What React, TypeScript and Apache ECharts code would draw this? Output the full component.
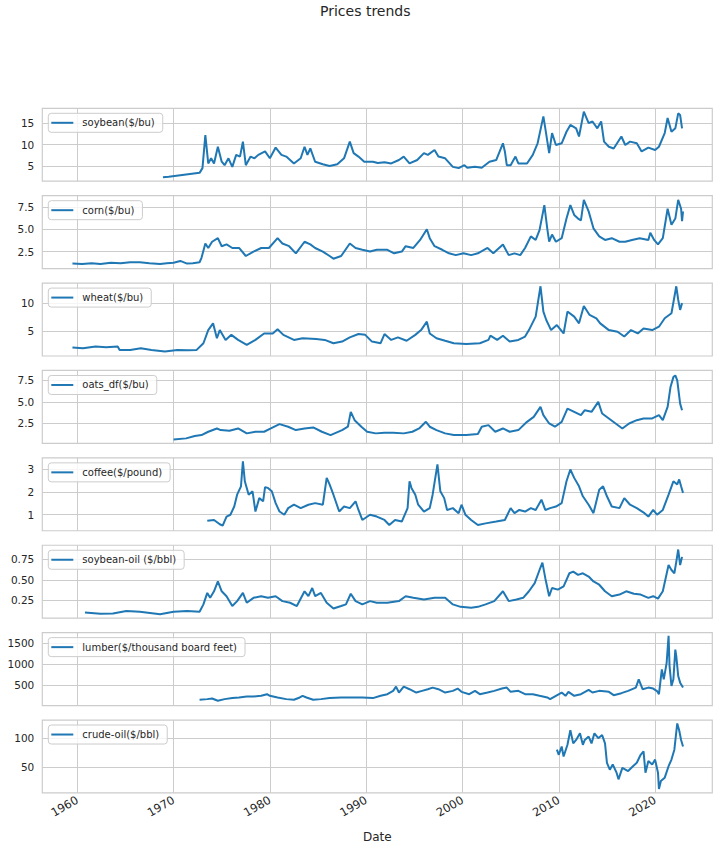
import React, { useEffect, useRef } from 'react';
import * as echarts from 'echarts';

const FONT = 'DejaVu Sans';
const LINE_COLOR = '#1f77b4';
const TEXT_COLOR = '#262626';
const GRID_COLOR = '#cccccc';

const xTicks = [1960, 1970, 1980, 1990, 2000, 2010, 2020];
const X_MIN = 1956.37;
const X_MAX = 2025.94;

const seriesNames = [
  'soybean($/bu)',
  'corn($/bu)',
  'wheat($/bu)',
  'oats_df($/bu)',
  'coffee($/pound)',
  'soybean-oil ($/bbl)',
  'lumber($/thousand board feet)',
  'crude-oil($/bbl)',
];

const yTicks: number[][] = [
  [5, 10, 15],
  [2.5, 5, 7.5],
  [5, 10],
  [2.5, 5, 7.5],
  [1, 2, 3],
  [0.25, 0.5, 0.75],
  [500, 1000, 1500],
  [50, 100],
];
const yDecimals = [0, 1, 0, 1, 0, 2, 0, 0];
const yMin = [1.45, 0.59, 0.59, 0.19, 0.295, 0.032, 5, 4.2];
const yMax = [18.48, 8.76, 13.57, 8.65, 3.5, 0.922, 1743, 131.9];

const soybean: [number, number][] = [
  [1968.9, 2.4], [1969.5, 2.5], [1970.5, 2.8], [1971.5, 3.1], [1972.7, 3.4], [1973.0, 4.5], [1973.3, 12.2],
  [1973.6, 5.6], [1973.9, 6.8], [1974.2, 5.6], [1974.6, 9.5], [1975.0, 6.0], [1975.3, 5.2], [1975.7, 6.8],
  [1976.1, 4.8], [1976.5, 7.6], [1976.9, 7.2], [1977.2, 10.7], [1977.5, 5.2], [1978.0, 7.2], [1978.4, 6.8],
  [1978.8, 7.6], [1979.5, 8.4], [1980.0, 6.8], [1980.6, 9.3], [1981.2, 7.6], [1981.7, 7.2], [1982.5, 5.6],
  [1983.2, 6.8], [1983.6, 9.5], [1983.9, 7.6], [1984.2, 9.1], [1984.7, 6.0], [1985.5, 5.4], [1986.2, 5.0],
  [1987.0, 5.4], [1987.7, 6.8], [1988.3, 10.7], [1988.7, 8.0], [1989.2, 7.2], [1989.8, 6.0], [1990.7, 6.0],
  [1991.2, 5.7], [1991.9, 5.9], [1992.6, 5.6], [1993.4, 6.4], [1993.9, 7.2], [1994.5, 5.6], [1995.3, 6.4],
  [1996.0, 8.0], [1996.4, 7.6], [1997.1, 8.75], [1997.5, 7.2], [1998.2, 6.8], [1999.0, 4.8], [1999.6, 4.5],
  [2000.2, 5.2], [2000.5, 4.6], [2001.3, 4.8], [2002.0, 4.6], [2002.8, 6.0], [2003.5, 6.4], [2004.2, 10.3],
  [2004.4, 8.4], [2004.6, 5.2], [2005.0, 5.2], [2005.5, 7.2], [2005.8, 5.6], [2006.7, 5.6], [2007.3, 7.6],
  [2007.8, 10.3], [2008.4, 16.6], [2008.6, 13.8], [2009.0, 8.0], [2009.3, 12.7], [2009.7, 9.9], [2010.3, 10.3],
  [2010.8, 13.0], [2011.2, 14.6], [2011.8, 13.8], [2012.1, 11.9], [2012.6, 17.7], [2013.1, 15.0], [2013.5, 15.4],
  [2014.0, 13.8], [2014.4, 15.4], [2014.7, 10.7], [2015.2, 9.5], [2015.7, 9.1], [2016.5, 11.9], [2016.9, 9.9],
  [2017.4, 10.7], [2018.1, 10.3], [2018.6, 8.4], [2019.3, 9.3], [2020.0, 8.75], [2020.4, 9.5], [2021.0, 12.7],
  [2021.3, 16.2], [2021.7, 13.0], [2022.1, 13.8], [2022.4, 17.3], [2022.6, 16.9], [2022.8, 13.8],
];

const corn: [number, number][] = [
  [1959.5, 1.15], [1960.5, 1.1], [1961.5, 1.2], [1962.4, 1.1], [1963.5, 1.25], [1964.5, 1.2], [1965.5, 1.3],
  [1966.5, 1.3], [1967.5, 1.2], [1968.6, 1.1], [1969.3, 1.2], [1970.0, 1.25], [1970.7, 1.45], [1971.4, 1.15],
  [1972.0, 1.2], [1972.7, 1.3], [1972.9, 1.8], [1973.3, 3.4], [1973.6, 2.9], [1974.0, 3.6], [1974.6, 4.0],
  [1975.0, 3.1], [1975.5, 3.3], [1976.1, 2.9], [1976.8, 2.9], [1977.5, 2.0], [1978.3, 2.5], [1979.1, 2.9],
  [1979.9, 2.9], [1980.8, 4.0], [1981.3, 3.4], [1982.0, 3.1], [1982.7, 2.3], [1983.6, 3.6], [1984.2, 3.3],
  [1984.7, 2.9], [1985.5, 2.5], [1986.2, 2.0], [1986.6, 1.7], [1987.4, 2.0], [1988.3, 3.4], [1988.9, 2.9],
  [1989.6, 2.7], [1990.4, 2.5], [1991.1, 2.7], [1992.2, 2.7], [1992.9, 2.3], [1993.7, 2.5], [1994.1, 3.1],
  [1994.9, 2.9], [1995.6, 3.8], [1996.3, 5.0], [1996.6, 4.0], [1997.1, 3.1], [1997.9, 2.7], [1998.6, 2.3],
  [1999.3, 2.1], [2000.1, 2.3], [2000.9, 2.1], [2001.6, 2.3], [2002.6, 2.9], [2003.2, 2.3], [2004.2, 3.3],
  [2004.8, 2.1], [2005.4, 2.3], [2006.0, 2.1], [2006.5, 2.9], [2007.1, 4.2], [2007.6, 3.8], [2008.0, 4.9],
  [2008.5, 7.7], [2008.8, 5.1], [2009.0, 3.6], [2009.3, 4.4], [2009.7, 3.6], [2010.3, 4.0], [2010.8, 6.2],
  [2011.2, 7.7], [2011.6, 6.6], [2012.0, 6.2], [2012.3, 6.0], [2012.6, 8.3], [2013.1, 7.0], [2013.6, 5.1],
  [2014.2, 4.2], [2014.8, 3.8], [2015.5, 4.0], [2016.3, 3.6], [2016.9, 3.6], [2017.6, 3.8], [2018.4, 4.0],
  [2019.3, 3.8], [2019.5, 4.6], [2019.9, 3.8], [2020.3, 3.3], [2020.8, 4.0], [2021.3, 7.3], [2021.7, 5.5],
  [2022.1, 6.2], [2022.4, 8.3], [2022.7, 7.3], [2022.8, 5.9], [2022.9, 7.0],
];

const wheat: [number, number][] = [
  [1959.5, 2.1], [1960.6, 1.96], [1961.9, 2.26], [1963.0, 2.15], [1964.2, 2.26], [1964.4, 1.67], [1965.5, 1.67],
  [1966.6, 1.96], [1967.7, 1.67], [1969.1, 1.37], [1970.4, 1.67], [1971.5, 1.6], [1972.4, 1.67], [1973.1, 2.86],
  [1973.6, 5.2], [1974.1, 6.4], [1974.5, 3.75], [1974.8, 5.2], [1975.4, 3.45], [1976.0, 4.35], [1976.7, 3.45],
  [1977.6, 2.56], [1978.5, 3.45], [1979.4, 4.6], [1980.3, 4.6], [1980.8, 5.35], [1981.4, 4.35], [1982.5, 3.45],
  [1983.4, 3.75], [1984.8, 3.6], [1985.7, 3.45], [1986.6, 2.86], [1987.5, 3.15], [1988.3, 3.9], [1989.2, 4.5],
  [1989.9, 4.35], [1990.6, 3.15], [1991.5, 2.86], [1991.9, 4.5], [1992.6, 3.45], [1993.3, 3.9], [1994.2, 3.3],
  [1995.1, 4.35], [1995.7, 5.2], [1996.3, 6.7], [1996.6, 4.6], [1997.3, 3.75], [1998.2, 3.3], [1999.1, 2.86],
  [2000.4, 2.74], [2001.8, 2.86], [2002.7, 3.45], [2002.9, 4.2], [2003.6, 3.45], [2004.2, 4.2], [2004.9, 3.15],
  [2005.8, 3.45], [2006.5, 4.05], [2006.9, 5.2], [2007.6, 7.6], [2008.1, 13.0], [2008.4, 8.5], [2008.7, 7.0],
  [2009.2, 5.2], [2009.8, 6.1], [2010.5, 4.6], [2010.9, 8.5], [2011.6, 7.6], [2012.1, 6.4], [2012.6, 9.5],
  [2013.2, 7.9], [2013.9, 7.3], [2014.3, 6.4], [2015.2, 5.2], [2016.1, 4.9], [2016.8, 4.05], [2017.5, 5.2],
  [2018.2, 4.6], [2018.8, 5.5], [2019.7, 5.2], [2020.4, 5.8], [2021.0, 7.3], [2021.7, 8.2], [2022.2, 13.0],
  [2022.4, 10.6], [2022.6, 8.8], [2022.8, 10.0],
];

const oats: [number, number][] = [
  [1970.0, 0.65], [1971.3, 0.77], [1972.2, 1.04], [1972.9, 1.15], [1973.6, 1.54], [1974.5, 1.92], [1974.9, 1.73],
  [1975.8, 1.65], [1976.7, 1.92], [1977.6, 1.35], [1978.5, 1.54], [1979.4, 1.54], [1980.1, 1.92], [1981.0, 2.42],
  [1981.9, 2.12], [1982.7, 1.73], [1983.6, 1.92], [1984.5, 2.04], [1985.4, 1.54], [1986.3, 1.15], [1987.5, 1.73],
  [1988.1, 2.12], [1988.4, 3.85], [1988.8, 2.88], [1989.5, 2.12], [1990.1, 1.54], [1991.0, 1.35], [1991.9, 1.42],
  [1992.8, 1.42], [1993.9, 1.35], [1994.8, 1.54], [1995.5, 1.92], [1996.2, 2.69], [1996.6, 2.12], [1997.3, 1.73],
  [1998.2, 1.35], [1999.1, 1.15], [2000.4, 1.15], [2001.6, 1.27], [2002.0, 2.12], [2002.7, 2.31], [2003.4, 1.54],
  [2004.2, 1.92], [2004.9, 1.54], [2005.8, 1.73], [2006.7, 2.69], [2007.4, 3.27], [2008.1, 4.42], [2008.4, 3.46],
  [2009.0, 2.5], [2009.6, 2.12], [2010.3, 2.69], [2010.9, 4.23], [2011.6, 3.85], [2012.3, 3.46], [2012.7, 4.04],
  [2013.4, 3.85], [2014.1, 5.0], [2014.5, 3.65], [2015.2, 3.08], [2015.9, 2.5], [2016.6, 1.92], [2017.3, 2.5],
  [2018.1, 2.88], [2018.8, 3.08], [2019.7, 3.08], [2020.4, 3.46], [2020.8, 2.88], [2021.3, 4.42], [2021.6, 6.73],
  [2021.9, 7.88], [2022.1, 8.08], [2022.3, 7.5], [2022.6, 4.8], [2022.8, 4.04],
];

const coffee: [number, number][] = [
  [1973.5, 0.73], [1974.2, 0.77], [1974.8, 0.58], [1975.1, 0.52], [1975.5, 0.92], [1975.9, 1.0], [1976.3, 1.36],
  [1976.6, 1.88], [1977.0, 2.25], [1977.2, 3.35], [1977.4, 2.47], [1977.8, 1.88], [1978.2, 2.03], [1978.5, 1.14],
  [1978.9, 1.73], [1979.3, 1.59], [1979.5, 2.21], [1979.8, 2.18], [1980.2, 2.03], [1980.6, 1.51], [1981.0, 1.14],
  [1981.5, 1.0], [1981.9, 1.29], [1982.5, 1.44], [1983.2, 1.29], [1984.0, 1.44], [1984.7, 1.51], [1985.5, 1.44],
  [1985.9, 2.62], [1986.2, 2.33], [1986.6, 1.88], [1987.2, 1.14], [1987.7, 1.36], [1988.3, 1.29], [1988.9, 1.59],
  [1989.2, 1.21], [1989.6, 0.77], [1990.4, 1.0], [1991.1, 0.92], [1991.9, 0.77], [1992.4, 0.55], [1993.0, 0.77],
  [1993.7, 0.7], [1994.3, 1.29], [1994.5, 2.47], [1994.7, 2.18], [1995.1, 1.88], [1995.4, 1.44], [1996.0, 1.14],
  [1996.6, 1.29], [1996.9, 1.88], [1997.4, 3.21], [1997.7, 2.03], [1998.1, 1.73], [1998.4, 1.21], [1999.0, 1.29],
  [1999.6, 1.07], [1999.9, 1.44], [2000.3, 1.0], [2000.9, 0.77], [2001.6, 0.55], [2002.4, 0.62], [2003.5, 0.7],
  [2004.4, 0.77], [2005.0, 1.29], [2005.4, 1.07], [2005.9, 1.21], [2006.5, 1.14], [2007.1, 1.29], [2007.6, 1.21],
  [2008.2, 1.66], [2008.6, 1.21], [2009.1, 1.29], [2009.7, 1.36], [2010.3, 1.51], [2010.8, 2.47], [2011.2, 2.99],
  [2011.6, 2.62], [2012.1, 2.25], [2012.5, 1.81], [2013.1, 1.44], [2013.6, 1.07], [2014.2, 2.1], [2014.6, 2.25],
  [2015.0, 1.81], [2015.5, 1.36], [2016.3, 1.29], [2016.8, 1.73], [2017.4, 1.44], [2018.1, 1.29], [2018.9, 1.07],
  [2019.3, 0.92], [2019.8, 1.21], [2020.2, 1.0], [2020.8, 1.21], [2021.4, 1.88], [2021.9, 2.47], [2022.3, 2.33],
  [2022.5, 2.55], [2022.7, 2.25], [2022.9, 1.96],
];

const soybeanOil: [number, number][] = [
  [1960.8, 0.1], [1962.4, 0.086], [1963.7, 0.09], [1965.1, 0.12], [1966.5, 0.11], [1968.6, 0.08], [1970.0, 0.11],
  [1971.4, 0.12], [1972.7, 0.11], [1973.1, 0.2], [1973.5, 0.34], [1973.8, 0.28], [1974.2, 0.36], [1974.6, 0.48],
  [1975.0, 0.36], [1975.5, 0.3], [1976.1, 0.18], [1976.6, 0.24], [1977.2, 0.34], [1977.6, 0.22], [1978.3, 0.28],
  [1979.1, 0.3], [1979.8, 0.28], [1980.6, 0.3], [1981.3, 0.24], [1982.1, 0.22], [1982.8, 0.18], [1983.6, 0.36],
  [1984.0, 0.3], [1984.4, 0.4], [1984.7, 0.3], [1985.3, 0.34], [1985.9, 0.22], [1986.6, 0.15], [1987.4, 0.18],
  [1987.9, 0.2], [1988.4, 0.33], [1988.9, 0.24], [1989.6, 0.2], [1990.4, 0.24], [1991.1, 0.22], [1992.2, 0.22],
  [1993.4, 0.24], [1994.1, 0.3], [1994.9, 0.28], [1996.0, 0.26], [1997.1, 0.28], [1998.2, 0.28], [1999.0, 0.2],
  [1999.8, 0.17], [2000.9, 0.16], [2001.6, 0.17], [2002.4, 0.2], [2003.3, 0.24], [2004.2, 0.36], [2004.8, 0.24],
  [2005.6, 0.26], [2006.3, 0.28], [2006.9, 0.36], [2007.5, 0.46], [2008.0, 0.62], [2008.3, 0.71], [2008.6, 0.52],
  [2009.0, 0.3], [2009.3, 0.4], [2009.9, 0.38], [2010.5, 0.42], [2011.1, 0.58], [2011.5, 0.6], [2012.0, 0.56],
  [2012.5, 0.58], [2013.1, 0.54], [2013.6, 0.48], [2014.2, 0.44], [2014.8, 0.36], [2015.5, 0.3], [2016.3, 0.32],
  [2017.0, 0.36], [2017.8, 0.33], [2018.5, 0.32], [2019.3, 0.28], [2019.8, 0.3], [2020.3, 0.27], [2020.8, 0.36],
  [2021.4, 0.68], [2021.7, 0.62], [2022.0, 0.58], [2022.2, 0.72], [2022.4, 0.87], [2022.6, 0.68], [2022.8, 0.78],
];

const lumber: [number, number][] = [
  [1972.7, 142], [1973.5, 158], [1974.0, 174], [1974.6, 118], [1975.3, 158], [1976.1, 182], [1976.8, 197],
  [1977.6, 221], [1978.3, 221], [1979.1, 237], [1979.7, 276], [1980.0, 237], [1980.8, 197], [1981.7, 158],
  [1982.5, 142], [1983.1, 197], [1983.4, 237], [1983.8, 197], [1984.5, 142], [1985.3, 158], [1986.2, 182],
  [1987.4, 197], [1988.5, 197], [1989.6, 197], [1990.7, 182], [1991.5, 237], [1992.2, 276], [1992.8, 355],
  [1993.1, 457], [1993.4, 315], [1993.9, 457], [1994.5, 394], [1995.2, 315], [1995.8, 355], [1996.4, 394],
  [1996.9, 433], [1997.5, 394], [1998.2, 315], [1999.0, 355], [1999.5, 410], [1999.9, 331], [2000.7, 276],
  [2001.3, 355], [2001.8, 276], [2002.6, 315], [2003.3, 355], [2004.1, 410], [2004.6, 433], [2005.0, 331],
  [2005.8, 355], [2006.5, 276], [2007.3, 276], [2008.0, 237], [2008.8, 197], [2009.1, 158], [2009.7, 237],
  [2010.3, 315], [2010.7, 237], [2011.0, 331], [2011.6, 237], [2012.3, 276], [2013.1, 378], [2013.5, 315],
  [2014.2, 355], [2015.2, 331], [2015.7, 252], [2016.5, 300], [2017.2, 355], [2018.0, 433], [2018.3, 630],
  [2018.7, 394], [2019.3, 433], [2019.8, 410], [2020.2, 350], [2020.4, 276], [2020.7, 866], [2020.9, 630],
  [2021.2, 1024], [2021.4, 1669], [2021.5, 945], [2021.7, 473], [2021.9, 630], [2022.1, 1338], [2022.2, 1181],
  [2022.4, 709], [2022.6, 551], [2022.9, 433],
];

const crudeOil: [number, number][] = [
  [2009.8, 79.9], [2010.0, 71], [2010.3, 85.6], [2010.5, 68], [2010.9, 88.5], [2011.2, 114], [2011.5, 91],
  [2011.8, 97], [2012.2, 108.6], [2012.5, 88.5], [2012.7, 97], [2013.1, 103], [2013.4, 91], [2013.7, 108.6],
  [2014.1, 100], [2014.5, 105.7], [2014.8, 91], [2015.0, 57], [2015.3, 45], [2015.6, 54], [2016.0, 39.7],
  [2016.2, 28], [2016.6, 48], [2017.2, 42.5], [2017.7, 51], [2018.1, 57], [2018.5, 71], [2018.8, 77],
  [2019.0, 39.7], [2019.3, 60], [2019.7, 54], [2020.0, 62.6], [2020.3, 39.7], [2020.4, 11], [2020.6, 25],
  [2021.0, 31], [2021.4, 51], [2021.7, 62.6], [2022.0, 80], [2022.3, 125.9], [2022.5, 114], [2022.7, 97],
  [2022.9, 85.6],
];

const allData = [soybean, corn, wheat, oats, coffee, soybeanOil, lumber, crudeOil];

export default function App() {
  const ref = useRef<HTMLDivElement>(null);

  useEffect(() => {
    document.body.style.margin = '0';
    const chart = echarts.init(ref.current as HTMLDivElement, null, { renderer: 'svg' });

    const PANEL_TOP = 108.3;
    const PANEL_STEP = 87.39;
    const PANEL_H = 72.9;
    const LEFT = 42.3;
    const WIDTH = 670;

    const grids: any[] = [];
    const xAxes: any[] = [];
    const yAxes: any[] = [];
    const series: any[] = [];
    const legends: any[] = [];

    seriesNames.forEach((name, i) => {
      const top = PANEL_TOP + i * PANEL_STEP;
      grids.push({
        left: LEFT,
        top,
        width: WIDTH,
        height: PANEL_H,
        show: true,
        borderColor: GRID_COLOR,
        borderWidth: 1.2,
        backgroundColor: '#ffffff',
      });
      const isLast = i === seriesNames.length - 1;
      xAxes.push({
        type: 'value',
        gridIndex: i,
        min: X_MIN,
        max: X_MAX,
        axisLine: { show: false },
        axisTick: { show: false, customValues: xTicks },
        axisLabel: {
          show: isLast,
          customValues: xTicks,
          rotate: 30,
          margin: 6,
          fontSize: 11.5,
          fontFamily: FONT,
          color: TEXT_COLOR,
          formatter: (v: number) => String(Math.round(v)),
        },
        splitLine: { show: true, lineStyle: { color: GRID_COLOR, width: 1 } },
        name: isLast ? 'Date' : '',
        nameLocation: 'middle',
        nameGap: 38,
        nameTextStyle: { fontSize: 12, fontFamily: FONT, color: TEXT_COLOR },
      });
      yAxes.push({
        type: 'value',
        gridIndex: i,
        min: yMin[i],
        max: yMax[i],
        axisLine: { show: false },
        axisTick: { show: false, customValues: yTicks[i] },
        axisLabel: {
          customValues: yTicks[i],
          margin: 8,
          fontSize: 10.5,
          fontFamily: FONT,
          color: TEXT_COLOR,
          formatter: (v: number) => v.toFixed(yDecimals[i]),
        },
        splitLine: { show: true, lineStyle: { color: GRID_COLOR, width: 1 } },
      });
      series.push({
        name,
        type: 'line',
        xAxisIndex: i,
        yAxisIndex: i,
        data: allData[i],
        showSymbol: false,
        symbol: 'none',
        lineStyle: { color: LINE_COLOR, width: 2 },
        itemStyle: { color: LINE_COLOR },
        z: 3,
      });
      legends.push({
        data: [name],
        left: 48.3,
        top: top + 5,
        orient: 'horizontal',
        icon: 'rect',
        itemWidth: 22,
        itemHeight: 2,
        padding: [3.5, 8, 3.5, 3],
        borderColor: GRID_COLOR,
        borderWidth: 1,
        borderRadius: 3,
        backgroundColor: 'rgba(255,255,255,0.8)',
        selectedMode: false,
        textStyle: {
          fontSize: 10,
          lineHeight: 12,
          fontFamily: FONT,
          color: TEXT_COLOR,
          padding: [0, 0, 0, 4],
        },
      });
    });

    chart.setOption({
      animation: false,
      backgroundColor: '#ffffff',
      title: {
        text: 'Prices trends',
        left: 320,
        top: 4,
        padding: 0,
        textStyle: { fontSize: 14, fontWeight: 'normal', fontFamily: FONT, color: TEXT_COLOR },
      },
      grid: grids,
      xAxis: xAxes,
      yAxis: yAxes,
      legend: legends,
      series,
    });

    return () => chart.dispose();
  }, []);

  return <div ref={ref} style={{ width: 719, height: 851 }} />;
}
